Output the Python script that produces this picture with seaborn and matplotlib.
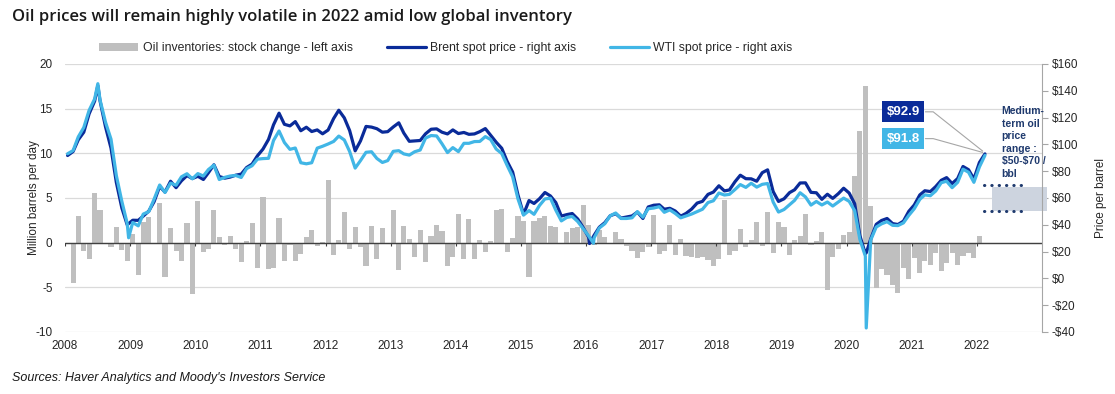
import pandas as pd
import matplotlib
matplotlib.use("Agg")
import matplotlib.pyplot as plt
import seaborn as sns
from matplotlib.patches import Patch, Rectangle
from matplotlib.lines import Line2D

# Oil inventories: stock change, million barrels per day, monthly Jan 2008 - Jan 2022
stock_2008 = [0.0, -4.5, 3.0, -0.9, -1.8, 5.6, 3.7, -0.1, -0.5, 1.8, -0.8, -2.1]
stock_2009 = [1.0, -3.6, 2.3, 2.9, -0.2, 4.4, -3.9, 1.6, -0.9, -2.1, 2.2, -5.7]
stock_2010 = [4.7, -1.0, -0.7, 3.7, 0.6, -0.3, 0.8, -0.7, -2.2, 0.2, 2.2, -2.8]
stock_2011 = [5.15, -2.95, -2.8, 2.75, -2.0, -0.3, -2.0, -1.3, 0.6, 1.45, -0.4, 0.1]
stock_2012 = [7.05, -1.35, 0.3, 3.4, -0.7, 1.8, -0.5, -2.6, 1.9, -1.8, 1.6, -0.2]
stock_2013 = [3.6, -3.1, 1.9, 0.45, -1.6, 1.4, -2.2, 0.7, 1.95, 1.35, -2.6, -1.6]
stock_2014 = [3.25, -1.8, 2.65, -1.8, 0.3, -1.0, 0.2, 3.7, 3.8, -1.0, 0.5, 2.95]
stock_2015 = [2.4, -3.9, 2.45, 2.75, 2.95, 1.9, 1.75, -0.1, 1.2, 1.6, 1.8, 4.2]
stock_2016 = [2.0, -0.3, 1.45, 0.6, -0.1, 1.15, 0.4, -0.4, -0.9, -1.7, -1.1, -0.5]
stock_2017 = [3.1, -1.3, -0.9, 2.0, -1.4, 0.45, -1.5, -1.65, -1.7, -1.6, -1.9, -2.6]
stock_2018 = [-1.8, 4.8, -1.35, -0.9, 1.55, -0.5, 0.3, 2.3, -0.4, 3.4, -1.15, 2.3]
stock_2019 = [1.75, -1.4, 0.3, 0.7, 3.2, -0.3, 0.15, 1.2, -5.3, -1.65, -0.7, 0.9]
stock_2020 = [1.2, 7.5, 12.5, 17.5, 4.05, -5.1, -3.0, -3.6, -4.7, -5.6, -2.8, -4.1]
stock_2021 = [-1.7, -3.4, -2.1, -2.5, -1.2, -3.2, -2.3, -1.2, -2.5, -1.5, -1.2, -1.7]
stock_2022 = [0.7]

stock_change = (stock_2008 + stock_2009 + stock_2010 + stock_2011 + stock_2012
                + stock_2013 + stock_2014 + stock_2015 + stock_2016 + stock_2017
                + stock_2018 + stock_2019 + stock_2020 + stock_2021 + stock_2022)

# Spot prices, $/bbl, monthly Jan 2008 - Feb 2022
brent = [91.7, 94.7, 103.4, 109.1, 122.8, 132.3, 132.7, 113.2, 97.2, 71.6, 52.5, 40.0,
         43.4, 43.3, 46.5, 50.2, 57.3, 68.6, 64.4, 72.5, 67.7, 72.8, 76.7, 74.5,
         76.2, 73.8, 78.8, 84.8, 76.0, 74.8, 75.6, 77.0, 77.8, 82.7, 85.3, 91.5,
         96.5, 103.7, 114.6, 123.3, 115.0, 113.8, 117.0, 110.2, 112.8, 109.6, 110.8, 107.9,
         110.7, 119.3, 125.5, 119.8, 110.3, 95.2, 102.6, 113.4, 112.9, 111.7, 109.1, 109.5,
         113.0, 116.1, 108.5, 102.3, 102.6, 102.9, 107.9, 111.3, 111.6, 109.1, 107.8, 110.8,
         108.1, 108.9, 107.5, 107.8, 109.5, 111.8, 106.8, 101.6, 97.1, 87.4, 79.4, 62.3,
         47.8, 58.1, 55.9, 59.5, 64.1, 61.5, 56.6, 46.5, 47.6, 48.4, 44.3, 38.0,
         30.7, 32.2, 38.2, 41.6, 46.7, 48.3, 45.0, 45.8, 46.6, 49.5, 44.7, 53.3,
         54.6, 54.9, 51.6, 52.3, 50.3, 46.4, 48.5, 51.7, 56.2, 57.5, 62.7, 64.4,
         69.1, 65.3, 66.0, 72.1, 77.0, 74.4, 74.3, 72.5, 78.9, 81.0, 64.8, 57.4,
         59.4, 64.0, 66.1, 71.2, 71.3, 64.2, 63.9, 59.0, 62.8, 59.7, 63.2, 67.3,
         63.7, 55.7, 32.0, 18.4, 29.4, 40.3, 43.2, 44.7, 40.9, 40.2, 42.7, 50.0,
         54.8, 62.3, 65.4, 64.8, 68.5, 73.2, 75.2, 70.8, 74.5, 83.5, 81.1, 74.2,
         86.5, 92.9]
wti = [93.0, 95.4, 105.6, 112.6, 125.4, 133.9, 133.4, 116.6, 103.9, 76.7, 57.4, 41.0,
       41.7, 39.2, 48.0, 49.8, 59.2, 69.7, 64.1, 71.1, 69.5, 75.8, 78.1, 74.3,
       78.2, 76.4, 81.2, 84.5, 73.8, 75.4, 76.4, 76.8, 75.3, 81.9, 84.1, 89.0,
       89.4, 89.6, 102.9, 110.0, 101.4, 96.3, 97.3, 86.3, 85.5, 86.3, 97.2, 98.6,
       100.3, 102.2, 106.2, 103.3, 94.7, 82.3, 87.9, 94.1, 94.5, 89.5, 86.5, 87.9,
       94.8, 95.3, 92.9, 92.0, 94.5, 95.8, 104.7, 106.6, 106.3, 100.5, 93.9, 97.6,
       94.6, 100.8, 100.8, 102.1, 102.2, 105.8, 103.6, 96.5, 93.2, 84.4, 75.8, 59.3,
       47.2, 50.6, 47.8, 54.5, 59.3, 59.8, 50.9, 42.9, 45.5, 46.2, 42.4, 37.2,
       31.7, 30.3, 37.6, 40.8, 46.7, 48.8, 44.7, 44.7, 45.2, 49.8, 45.7, 52.0,
       52.5, 53.5, 49.3, 51.1, 48.5, 45.2, 46.6, 48.0, 49.8, 51.6, 56.6, 57.9,
       63.7, 62.2, 62.7, 66.3, 70.0, 67.9, 71.0, 68.1, 70.2, 70.8, 57.0, 49.5,
       51.4, 55.0, 58.2, 63.9, 60.8, 54.7, 57.4, 54.8, 57.0, 54.0, 57.0, 59.9,
       57.5, 50.5, 29.2, 16.6, 28.6, 38.3, 40.7, 42.3, 39.6, 39.4, 41.4, 47.0,
       52.0, 59.0, 62.3, 61.7, 65.2, 71.4, 72.5, 67.7, 71.7, 81.5, 79.2, 71.7,
       83.2, 91.8]

# daily extremes that the monthly series smooth away
brent_extra_dates = ["2008-07-03", "2016-01-20", "2020-04-21"]
brent_extra = [143.9, 26.0, 19.3]
wti_extra_dates = ["2008-07-03", "2008-12-23", "2016-02-11", "2020-04-20"]
wti_extra = [145.3, 30.3, 26.2, -37.0]

years = list(range(2008, 2023))
left_ticks = [-10, -5, 0, 5, 10, 15, 20]
right_ticks = [-40, -20, 0, 20, 40, 60, 80, 100, 120, 140, 160]

GREY = "#bfbfbf"
BRENT = "#0a2b99"
WTI = "#41b6e6"
NAVY = "#1f3a6e"


def dec_year(dates):
    d = pd.to_datetime(pd.Series(dates))
    days = d.dt.is_leap_year.map({True: 366, False: 365})
    return (d.dt.year + (d.dt.dayofyear - 0.5) / days).to_numpy()


bar_dates = pd.date_range("2008-01-01", periods=len(stock_change), freq="MS") + pd.Timedelta(days=14)
line_dates = pd.date_range("2008-01-01", periods=len(brent), freq="MS") + pd.Timedelta(days=14)

bars = pd.DataFrame({"t": dec_year(bar_dates), "v": stock_change})
brent_df = pd.concat([pd.DataFrame({"t": dec_year(line_dates), "p": brent}),
                      pd.DataFrame({"t": dec_year(brent_extra_dates), "p": brent_extra})]).sort_values("t")
wti_df = pd.concat([pd.DataFrame({"t": dec_year(line_dates), "p": wti}),
                    pd.DataFrame({"t": dec_year(wti_extra_dates), "p": wti_extra})]).sort_values("t")

sns.set_style("white")
plt.rcParams["font.family"] = ["Liberation Sans", "DejaVu Sans"]
plt.rcParams["axes.unicode_minus"] = False

fig = plt.figure(figsize=(11.15, 3.94), dpi=100)
ax = fig.add_axes([0.0583, 0.1574, 0.8762, 0.6802])

# bars on the left axis
ax.bar(bars["t"], bars["v"], width=1 / 12 * 0.95, color=GREY, linewidth=0, zorder=2)
ax.set_xlim(2008, 2023)
ax.set_ylim(-10, 20)
ax.set_yticks(left_ticks)
ax.set_xticks(years)
ax.set_xticklabels([str(y) for y in years])
ax.yaxis.grid(True, color="#dadada", lw=0.9, zorder=0)
ax.set_axisbelow(True)
ax.axhline(0, color="#404040", lw=1.0, zorder=3)
ax.vlines(years, -0.35, 0, color="#404040", lw=0.8, zorder=3)
for s in ax.spines.values():
    s.set_visible(False)
ax.tick_params(axis="both", length=0, labelsize=8.5, colors="#262626")
ax.tick_params(axis="y", pad=9)
ax.tick_params(axis="x", pad=6)
ax.set_ylabel("Million barrels per day", fontsize=8.5, color="#262626", labelpad=-3)

# prices on the right axis
ax2 = ax.twinx()
sns.lineplot(data=brent_df, x="t", y="p", ax=ax2, color=BRENT, lw=2.3, estimator=None, sort=False)
sns.lineplot(data=wti_df, x="t", y="p", ax=ax2, color=WTI, lw=2.3, estimator=None, sort=False)
ax2.set_xlim(2008, 2023)
ax2.set_ylim(-40, 160)
ax2.set_yticks(right_ticks)
ax2.set_yticklabels([f"-${abs(v)}" if v < 0 else f"${v}" for v in right_ticks])
ax2.set_xlabel("")
ax2.set_ylabel("Price per barrel", fontsize=8.5, color="#262626", labelpad=12)
for side in ["top", "left", "bottom"]:
    ax2.spines[side].set_visible(False)
ax2.spines["right"].set_color("#a6a6a6")
ax2.tick_params(axis="y", direction="out", length=4, color="#a6a6a6", labelsize=8.5,
                labelcolor="#262626", pad=3)

# last-value labels
ax2.text(2020.87, 124.3, "$92.9", ha="center", va="center", color="white", fontsize=9.5,
         fontweight="bold", bbox=dict(boxstyle="square,pad=0.35", fc=BRENT, ec="none"), zorder=6)
ax2.text(2020.87, 104.3, "$91.8", ha="center", va="center", color="white", fontsize=9.5,
         fontweight="bold", bbox=dict(boxstyle="square,pad=0.35", fc=WTI, ec="none"), zorder=6)
ax2.plot([2021.21, 2021.33, 2022.09], [124.3, 124.3, 95.0], color="#a6a6a6", lw=0.8, zorder=5)
ax2.plot([2021.21, 2021.33, 2022.09], [104.3, 104.3, 94.0], color="#a6a6a6", lw=0.8, zorder=5)

# medium-term price range
ax2.add_patch(Rectangle((2022.24, 50), 0.84, 18, fc="#cdd4df", ec="none", clip_on=False, zorder=1))
for lvl in [50, 70]:
    ax2.plot([2022.11, 2022.79], [lvl, lvl], color=NAVY, lw=2.2, ls=(0, (0.1, 2.3)),
             dash_capstyle="round", zorder=4)
ax2.text(2022.38, 128.5, "Medium-\nterm oil\nprice\nrange :\n\\$50-\\$70 /\nbbl", fontsize=7.5,
         fontweight="bold", color=NAVY, ha="left", va="top", linespacing=1.32, zorder=6)

handles = [Patch(fc=GREY, ec="none"),
           Line2D([0], [0], color=BRENT, lw=2.3),
           Line2D([0], [0], color=WTI, lw=2.3)]
labels = ["Oil inventories: stock change - left axis",
          "Brent spot price - right axis",
          "WTI spot price - right axis"]
fig.legend(handles, labels, loc="center", bbox_to_anchor=(0.40, 0.878), ncol=3, frameon=False,
           fontsize=8.8, handlelength=3.2, columnspacing=2.8, handletextpad=0.33)

fig.text(0.011, 0.957, "Oil prices will remain highly volatile in 2022 amid low global inventory",
         fontsize=12.0, family=["Open Sans", "DejaVu Sans"], fontweight="semibold", va="center",
         color="#1a1a1a")
fig.text(0.011, 0.041, "Sources: Haver Analytics and Moody's Investors Service", fontsize=9,
         family=["Liberation Sans Narrow", "Liberation Sans"], style="italic", va="center",
         color="#1a1a1a")

fig.savefig("out.png", dpi=100)
